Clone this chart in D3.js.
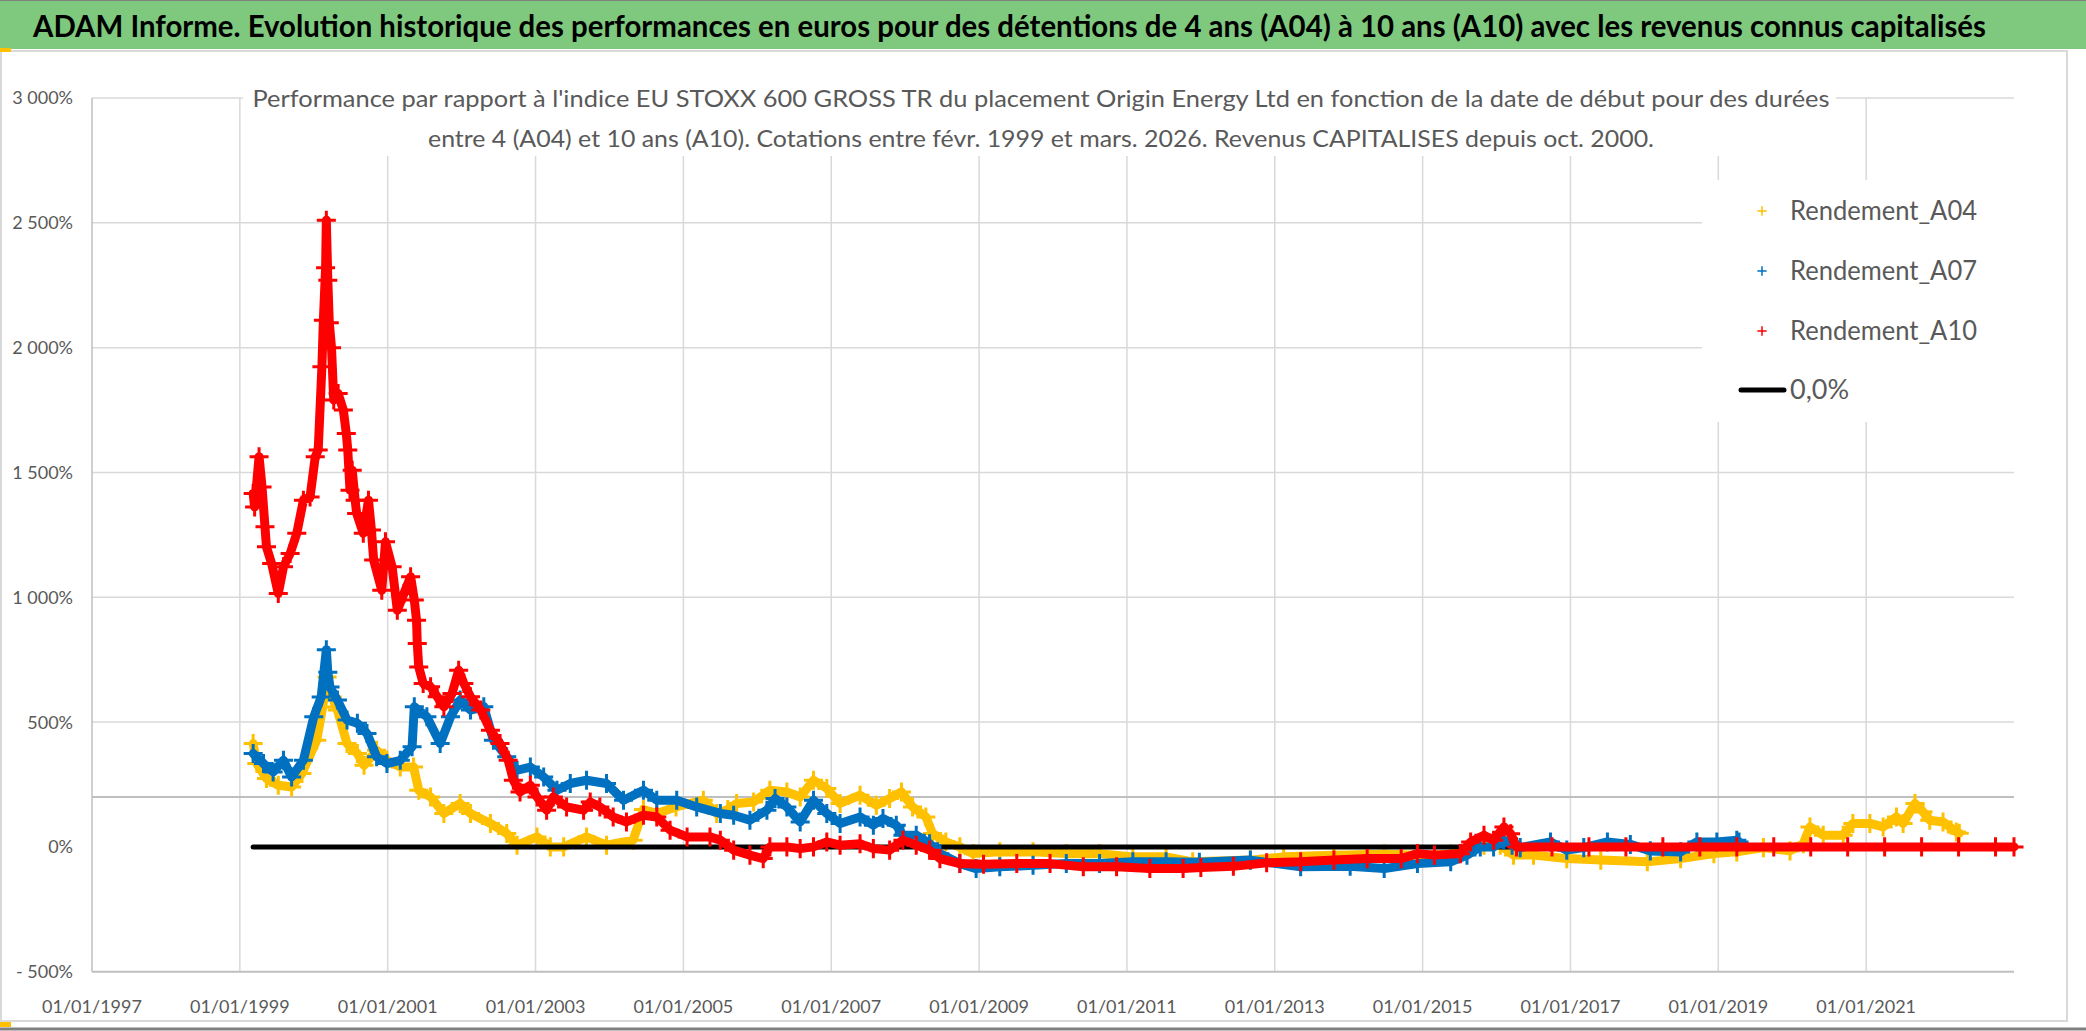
<!DOCTYPE html>
<html>
<head>
<meta charset="utf-8">
<script src="https://cdn.jsdelivr.net/npm/d3@7"></script>
<style>
  body { margin: 0; background: #fff; }
  svg { display: block; font-family: Lato, "Open Sans", sans-serif; }
</style>
</head>
<body>
<svg id="chart" width="2086" height="1031"></svg>
<script>
// values: [start year (decimal), performance %]
const rendementA04 = [
  [1999.18, 414], [1999.23, 334], [1999.36, 274], [1999.52, 247], [1999.70, 240], [1999.84, 294],
  [2000.04, 427], [2000.12, 560], [2000.18, 681], [2000.25, 600], [2000.32, 548], [2000.45, 414],
  [2000.59, 374], [2000.68, 327], [2000.85, 387], [2000.99, 347], [2001.17, 320], [2001.35, 320],
  [2001.42, 227], [2001.58, 200], [2001.76, 134], [2001.98, 174], [2002.12, 134], [2002.39, 94],
  [2002.61, 54], [2002.75, 7], [2003.02, 40], [2003.20, 0], [2003.38, 0], [2003.69, 40],
  [2003.96, 7], [2004.32, 27], [2004.46, 150], [2004.64, 134], [2004.90, 160], [2005.27, 187],
  [2005.45, 134], [2005.60, 150], [2005.72, 174], [2005.95, 180], [2006.17, 227], [2006.40, 220],
  [2006.58, 200], [2006.76, 267], [2006.94, 234], [2007.12, 174], [2007.39, 207], [2007.61, 167],
  [2007.79, 194], [2007.95, 220], [2008.10, 160], [2008.28, 120], [2008.37, 54], [2008.55, 20],
  [2008.74, 0], [2008.92, -27], [2009.28, -20], [2009.73, -20], [2010.18, -27], [2010.63, -27],
  [2011.08, -40], [2011.53, -40], [2011.89, -60], [2012.67, -53], [2013.12, -40], [2013.80, -33],
  [2014.48, -29], [2014.93, -33], [2015.38, -29], [2015.60, -13], [2015.83, 7], [2016.05, 7],
  [2016.23, -33], [2016.50, -33], [2016.95, -47], [2017.41, -53], [2018.04, -60], [2018.49, -47],
  [2018.94, -27], [2019.25, -20], [2019.61, -3], [2019.97, -16], [2020.15, 13], [2020.24, 80],
  [2020.42, 47], [2020.69, 47], [2020.82, 94], [2021.05, 94], [2021.23, 80], [2021.41, 120],
  [2021.50, 94], [2021.66, 174], [2021.77, 140], [2021.86, 107], [2022.04, 100], [2022.22, 60],
  [2022.26, 55]
];

const rendementA07 = [
  [1999.18, 374], [1999.32, 334], [1999.45, 300], [1999.59, 347], [1999.70, 280], [1999.86, 347],
  [2000.00, 521], [2000.10, 600], [2000.17, 790], [2000.19, 700], [2000.22, 640], [2000.32, 588],
  [2000.45, 508], [2000.59, 495], [2000.72, 454], [2000.85, 361], [2000.99, 334], [2001.17, 347],
  [2001.33, 401], [2001.36, 561], [2001.53, 521], [2001.71, 414], [2001.85, 521], [2001.98, 588],
  [2002.12, 548], [2002.30, 561], [2002.43, 427], [2002.61, 361], [2002.75, 307], [2002.93, 320],
  [2003.11, 280], [2003.29, 227], [2003.47, 254], [2003.69, 267], [2003.96, 254], [2004.19, 187],
  [2004.46, 227], [2004.64, 187], [2004.91, 187], [2005.18, 160], [2005.50, 134], [2005.68, 127],
  [2005.90, 107], [2006.13, 147], [2006.24, 194], [2006.40, 160], [2006.58, 100], [2006.76, 187],
  [2006.94, 134], [2007.12, 94], [2007.39, 120], [2007.57, 87], [2007.70, 114], [2007.88, 87],
  [2007.97, 47], [2008.15, 47], [2008.33, 13], [2008.47, -27], [2008.74, -67], [2008.96, -87],
  [2009.28, -80], [2009.73, -74], [2010.18, -67], [2010.63, -67], [2011.08, -60], [2011.53, -60],
  [2011.98, -62], [2012.67, -53], [2013.35, -80], [2014.02, -78], [2014.48, -87], [2014.93, -67],
  [2015.38, -60], [2015.60, -33], [2015.78, 0], [2015.96, 0], [2016.10, 27], [2016.21, 7],
  [2016.32, -3], [2016.73, 20], [2016.95, -13], [2017.18, -3], [2017.50, 20], [2017.81, 10],
  [2018.08, -16], [2018.49, -20], [2018.71, 20], [2018.98, 20], [2019.25, 27], [2019.28, 20]
];

const rendementA10 = [
  [1999.18, 1416], [1999.20, 1362], [1999.26, 1563], [1999.30, 1442], [1999.34, 1282], [1999.36, 1202],
  [1999.43, 1135], [1999.52, 1015], [1999.59, 1122], [1999.68, 1175], [1999.77, 1256], [1999.86, 1389],
  [1999.95, 1402], [2000.02, 1563], [2000.06, 1590], [2000.11, 1923], [2000.13, 2110], [2000.16, 2320],
  [2000.17, 2510], [2000.19, 2270], [2000.21, 2100], [2000.24, 2000], [2000.27, 1790], [2000.33, 1816],
  [2000.40, 1750], [2000.44, 1656], [2000.46, 1590], [2000.49, 1429], [2000.52, 1509], [2000.56, 1389],
  [2000.58, 1336], [2000.67, 1256], [2000.74, 1389], [2000.78, 1269], [2000.81, 1149], [2000.92, 1028],
  [2000.97, 1222], [2001.06, 1122], [2001.13, 948], [2001.22, 1015], [2001.31, 1082], [2001.36, 989],
  [2001.39, 908], [2001.40, 815], [2001.42, 721], [2001.48, 655], [2001.58, 641], [2001.67, 601],
  [2001.76, 561], [2001.87, 614], [2001.96, 708], [2002.03, 655], [2002.12, 601], [2002.26, 548],
  [2002.39, 467], [2002.52, 414], [2002.63, 347], [2002.70, 267], [2002.79, 220], [2002.93, 247],
  [2003.02, 200], [2003.15, 147], [2003.24, 200], [2003.42, 160], [2003.65, 147], [2003.74, 180],
  [2003.87, 160], [2004.05, 120], [2004.23, 100], [2004.46, 127], [2004.64, 120], [2004.82, 67],
  [2005.05, 40], [2005.36, 40], [2005.50, 27], [2005.68, -13], [2005.90, -33], [2006.08, -47],
  [2006.17, 0], [2006.40, 0], [2006.58, -7], [2006.76, 0], [2006.94, 20], [2007.12, 7],
  [2007.39, 13], [2007.57, -7], [2007.79, -13], [2007.97, 27], [2008.15, 7], [2008.33, -13],
  [2008.47, -47], [2008.74, -67], [2009.06, -70], [2009.51, -67], [2009.96, -67], [2010.41, -80],
  [2010.86, -80], [2011.31, -87], [2011.76, -87], [2012.00, -83], [2012.44, -78], [2012.89, -64],
  [2013.35, -60], [2013.80, -53], [2014.25, -47], [2014.71, -47], [2014.93, -27], [2015.16, -33],
  [2015.51, -27], [2015.65, 20], [2015.83, 47], [2015.96, 27], [2016.10, 80], [2016.19, 53],
  [2016.27, 0], [2016.75, 0], [2017.25, 0], [2017.75, 0], [2018.25, 0], [2018.75, 0],
  [2019.25, 0], [2019.75, 0], [2020.25, 0], [2020.75, 0], [2021.25, 0], [2021.75, 0],
  [2022.25, 0], [2022.75, 0], [2023.00, 0]
];

const zeroLine = [[1999.18, 0], [2023.00, 0]];
const seriesNames = ["Rendement_A04", "Rendement_A07", "Rendement_A10"];
const seriesColors = ["#FFC000", "#0070C0", "#FF0000"];
const yTicks = [-500, 0, 500, 1000, 1500, 2000, 2500, 3000];
const yGrid = [500, 1000, 1500, 2000, 2500, 3000];
const xTicks = [1997, 1999, 2001, 2003, 2005, 2007, 2009, 2011, 2013, 2015, 2017, 2019, 2021];
const levelLine = 200;

const title = "ADAM Informe. Evolution historique des performances en euros pour des détentions de 4 ans (A04) à 10 ans (A10) avec les revenus connus capitalisés";
const subtitle = [
  "Performance par rapport à l'indice EU STOXX 600 GROSS TR  du placement Origin Energy Ltd en fonction de la date de début pour des durées",
  "entre 4 (A04) et 10 ans (A10). Cotations entre févr. 1999 et mars. 2026. Revenus CAPITALISES depuis oct. 2000."
];

const svg = d3.select("#chart");
const x = d3.scaleLinear().domain([1997, 2023]).range([92, 2014]);
const y = d3.scaleLinear().domain([-500, 3000]).range([971.7, 98]);
const grey = "#595959";

// frame and title band
svg.append("rect").attr("x", 0).attr("y", 0).attr("width", 2086).attr("height", 1031).attr("fill", "#fff");
svg.append("rect").attr("x", 0).attr("y", 1).attr("width", 2086).attr("height", 48).attr("fill", "#7EC97E");
svg.append("line").attr("x1", 0).attr("x2", 2086).attr("y1", 0.5).attr("y2", 0.5).attr("stroke", "#7f7f7f");
svg.append("line").attr("x1", 0).attr("x2", 2068).attr("y1", 51).attr("y2", 51).attr("stroke", "#d9d9d9").attr("stroke-width", 2);
svg.append("line").attr("x1", 1).attr("x2", 1).attr("y1", 51).attr("y2", 1021).attr("stroke", "#d9d9d9").attr("stroke-width", 2);
svg.append("line").attr("x1", 2067).attr("x2", 2067).attr("y1", 51).attr("y2", 1021).attr("stroke", "#d9d9d9").attr("stroke-width", 2);
svg.append("line").attr("x1", 0).attr("x2", 2068).attr("y1", 1021).attr("y2", 1021).attr("stroke", "#d9d9d9").attr("stroke-width", 2);
svg.append("line").attr("x1", 0).attr("x2", 2086).attr("y1", 1029).attr("y2", 1029).attr("stroke", "#7f7f7f").attr("stroke-width", 3);

svg.append("text")
   .attr("x", 33).attr("y", 37)
   .attr("textLength", 1953).attr("lengthAdjust", "spacingAndGlyphs")
   .style("font-size", "30px").style("font-weight", "bold")
   .attr("fill", "#000")
   .text(title);

// gridlines
svg.append("g").selectAll("line")
   .data(xTicks.slice(1))
   .enter().append("line")
   .attr("x1", d => x(d)).attr("x2", d => x(d))
   .attr("y1", y(3000)).attr("y2", y(-500))
   .attr("stroke", "#d9d9d9").attr("stroke-width", 1.5);

svg.append("g").selectAll("line")
   .data(yGrid)
   .enter().append("line")
   .attr("x1", x(1997)).attr("x2", x(2023))
   .attr("y1", d => y(d)).attr("y2", d => y(d))
   .attr("stroke", "#d9d9d9").attr("stroke-width", 1.5);

svg.append("line")
   .attr("x1", x(1997)).attr("x2", x(1997))
   .attr("y1", y(3000)).attr("y2", y(-500))
   .attr("stroke", "#bfbfbf").attr("stroke-width", 1.5);
svg.append("line")
   .attr("x1", x(1997)).attr("x2", x(2023))
   .attr("y1", y(-500)).attr("y2", y(-500))
   .attr("stroke", "#bfbfbf").attr("stroke-width", 2);
svg.append("line")
   .attr("x1", x(1997)).attr("x2", x(2023))
   .attr("y1", y(levelLine)).attr("y2", y(levelLine))
   .attr("stroke", "#bfbfbf").attr("stroke-width", 2);

// axis labels
const fmt = v => d3.format(",")(Math.abs(v)).replace(",", " ") + "%";
svg.append("g").selectAll("text")
   .data(yTicks)
   .enter().append("text")
   .attr("x", 73).attr("y", d => y(d))
   .attr("dy", "0.36em")
   .attr("text-anchor", "end")
   .attr("fill", grey)
   .style("font-size", "18px")
   .text(d => (d < 0 ? "- " : "") + fmt(d));

svg.append("g").selectAll("text")
   .data(xTicks)
   .enter().append("text")
   .attr("x", d => x(d)).attr("y", 1013)
   .attr("text-anchor", "middle")
   .attr("fill", grey)
   .style("font-size", "18px")
   .text(d => "01/01/" + d);

// subtitle box
svg.append("rect").attr("x", 243).attr("y", 84).attr("width", 1593).attr("height", 72).attr("fill", "#fff");
svg.append("g").selectAll("text")
   .data(subtitle)
   .enter().append("text")
   .attr("x", 1041).attr("y", (d, i) => 107 + i * 40)
   .attr("text-anchor", "middle")
   .attr("textLength", (d, i) => i === 0 ? 1577 : 1226)
   .attr("lengthAdjust", "spacingAndGlyphs")
   .attr("fill", grey)
   .style("font-size", "24px")
   .text(d => d);

// series
const plus = d3.symbol().type(d3.symbolPlus || d3.symbolCross).size(120);
const line = d3.line().x(d => x(d[0])).y(d => y(d[1]));
const allSeries = [rendementA04, rendementA07, rendementA10];

function drawSeries(data, color) {
  svg.append("path")
     .datum(data)
     .attr("d", line)
     .attr("fill", "none")
     .attr("stroke", color)
     .attr("stroke-width", 9)
     .attr("stroke-linejoin", "round")
     .attr("stroke-linecap", "round");
  svg.append("g").selectAll("path")
     .data(data)
     .enter().append("path")
     .attr("transform", d => `translate(${x(d[0])},${y(d[1])})`)
     .attr("d", plus)
     .attr("fill", d3.symbolPlus ? "none" : color)
     .attr("stroke", color)
     .attr("stroke-width", 3);
}

drawSeries(allSeries[0], seriesColors[0]);
svg.append("path")
   .datum(zeroLine)
   .attr("d", line)
   .attr("stroke", "#000").attr("stroke-width", 5)
   .attr("stroke-linecap", "round");
drawSeries(allSeries[1], seriesColors[1]);
drawSeries(allSeries[2], seriesColors[2]);

// legend
svg.append("rect").attr("x", 1702).attr("y", 180).attr("width", 312).attr("height", 242).attr("fill", "#fff");
const legend = svg.append("g");
const legendSmall = d3.symbol().type(d3.symbolPlus || d3.symbolCross).size(30);
seriesNames.forEach((name, i) => {
  legend.append("path")
     .attr("transform", `translate(1762,${211 + i * 60})`)
     .attr("d", legendSmall)
     .attr("fill", d3.symbolPlus ? "none" : seriesColors[i])
     .attr("stroke", seriesColors[i])
     .attr("stroke-width", 1.5);
  legend.append("text")
     .attr("x", 1790).attr("y", 220 + i * 60)
     .attr("textLength", 187).attr("lengthAdjust", "spacingAndGlyphs")
     .attr("fill", grey)
     .style("font-size", "27px")
     .text(name);
});
legend.append("line")
   .attr("x1", 1741).attr("x2", 1784).attr("y1", 390).attr("y2", 390)
   .attr("stroke", "#000").attr("stroke-width", 5).attr("stroke-linecap", "round");
legend.append("text")
   .attr("x", 1790).attr("y", 399)
   .attr("fill", grey)
   .style("font-size", "27px")
   .text("0,0%");

// selection handles of the spreadsheet
svg.append("rect").attr("x", 0).attr("y", 48).attr("width", 11).attr("height", 4).attr("fill", "#FFC000");
svg.append("rect").attr("x", 0).attr("y", 1022).attr("width", 11).attr("height", 5).attr("fill", "#FFC000");
</script>
</body>
</html>
